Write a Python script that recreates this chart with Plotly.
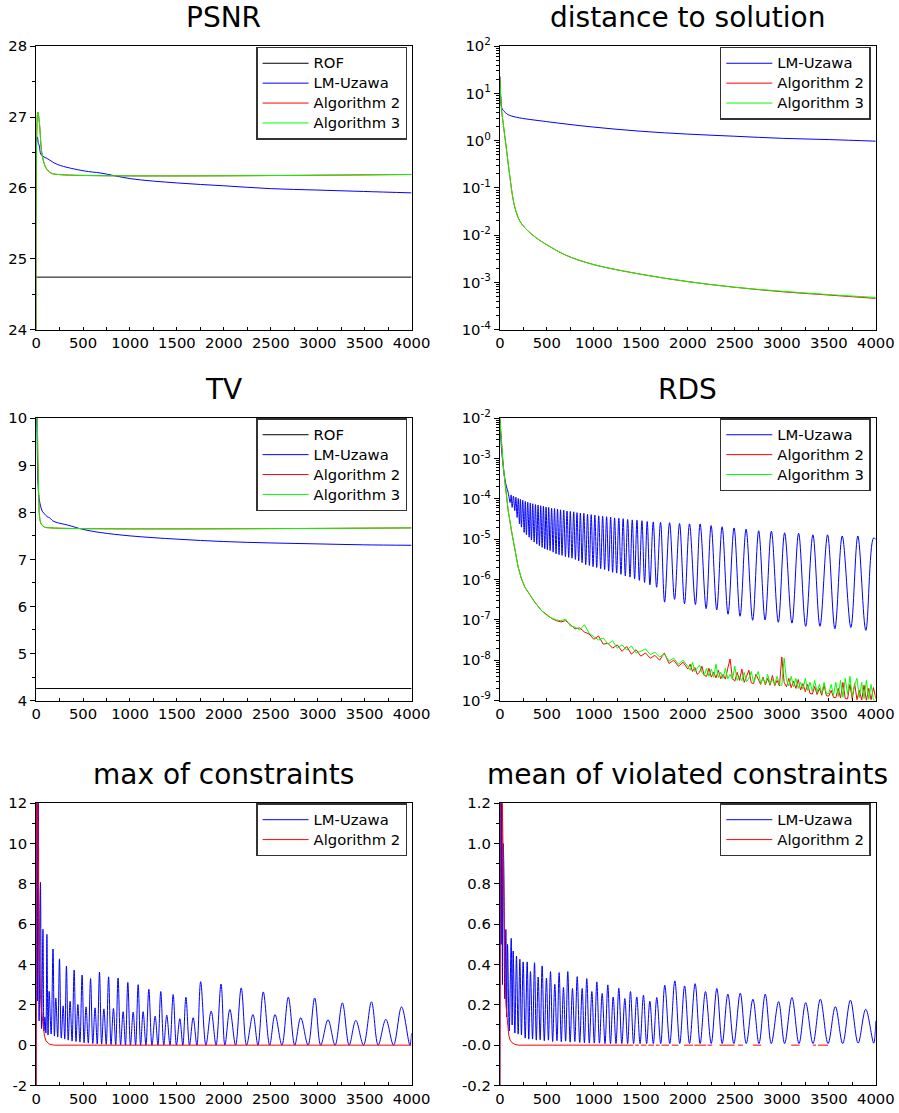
import plotly.graph_objects as go

# ======================= DATA =======================
# --- PSNR ---
psnr_rof_it = [0, 4000]
psnr_rof = [24.74, 24.74]
psnr_lm_it = [0, 12, 25, 35, 53, 124, 230, 513, 690, 1009, 1504, 2000, 2496, 2991, 3487, 4000]
psnr_lm = [23.0, 26.72, 26.63, 26.59, 26.47, 26.41, 26.33, 26.24, 26.21, 26.13, 26.07, 26.03, 25.99, 25.97, 25.95, 25.93]
psnr_alg_it = [0, 18, 35, 53, 71, 106, 159, 230, 4000]
psnr_alg2 = [23.0, 27.07, 26.92, 26.59, 26.42, 26.28, 26.21, 26.19, 26.19]
psnr_alg3 = [23.0, 27.07, 26.92, 26.59, 26.42, 26.28, 26.21, 26.19, 26.19]

# --- distance to solution (log10 values) ---
dist_lm_it = [0, 10, 20, 35, 88, 177, 496, 991, 1504, 2000, 2496, 3009, 3504, 4000]
dist_lm_exp = [1.36, 0.9, 0.7, 0.645, 0.553, 0.497, 0.405, 0.29, 0.20, 0.14, 0.095, 0.05, 0.024, -0.01]
dist_alg_it = [0, 18, 35, 71, 106, 142, 177, 212, 283, 389, 496, 708, 991, 1504, 1982, 2478, 3009, 3504, 4000]
dist_alg2_exp = [1.36, 0.66, 0.38, -0.19, -0.75, -1.25, -1.53, -1.70, -1.88, -2.06, -2.20, -2.43, -2.62, -2.83, -2.98, -3.10, -3.20, -3.27, -3.34]
dist_alg3_exp = [1.36, 0.66, 0.38, -0.19, -0.75, -1.25, -1.53, -1.70, -1.88, -2.06, -2.20, -2.43, -2.62, -2.83, -2.98, -3.10, -3.19, -3.26, -3.32]

# --- TV ---
tv_rof_it = [0, 4000]
tv_rof = [4.255, 4.255]
tv_lm_it = [0, 10, 28, 46, 60, 71, 88, 106, 125, 142, 177, 230, 336, 496, 690, 1002, 1504, 2000, 2496, 2991, 3487, 4000]
tv_lm = [12.0, 9.6, 8.36, 8.15, 8.05, 8.01, 7.97, 7.93, 7.90, 7.89, 7.82, 7.78, 7.73, 7.64, 7.57, 7.50, 7.43, 7.38, 7.35, 7.33, 7.31, 7.30]
tv_alg_it = [0, 10, 20, 30, 35, 53, 88, 159, 4000]
tv_alg2 = [12.0, 10.5, 9.0, 8.2, 7.94, 7.76, 7.69, 7.67, 7.67]
tv_alg3 = [12.0, 10.5, 9.0, 8.2, 7.94, 7.76, 7.69, 7.67, 7.67]

# --- RDS (log10 values) ---
rds_lm_start_it = [0, 18, 35, 53, 71, 88]
rds_lm_start_exp = [-2.0, -2.76, -3.17, -3.5, -3.7, -3.83]
rds_lm_peak_it = [120, 145, 171, 196, 219, 244, 271, 297, 324, 350, 379, 407, 435, 464, 492, 520, 551, 582, 614, 646,
                  680, 715, 750, 786, 821, 857, 894, 933, 972, 1011, 1052, 1094, 1136, 1179, 1221, 1266, 1312, 1360, 1409, 1459,
                  1512, 1568, 1632, 1710, 1806, 1912, 2018, 2131, 2248, 2365, 2492, 2620, 2754, 2889, 3030, 3179,
                  3331, 3487, 3643, 3809, 3976, 4000]
rds_lm_peak_exp = [-3.90, -3.93, -3.96, -3.99, -4.01, -4.03, -4.06, -4.08, -4.10, -4.12, -4.14, -4.15, -4.17, -4.18, -4.20, -4.21, -4.23, -4.24, -4.25, -4.27,
                   -4.28, -4.30, -4.31, -4.32, -4.34, -4.35, -4.36, -4.38, -4.39, -4.40, -4.42, -4.43, -4.44, -4.45, -4.47, -4.48, -4.49, -4.51, -4.52, -4.53,
                   -4.54, -4.56, -4.57, -4.58, -4.59, -4.61, -4.62, -4.62, -4.66, -4.69, -4.72, -4.75, -4.79, -4.80, -4.84, -4.85,
                   -4.89, -4.89, -4.92, -4.92, -4.97, -5.0]
rds_lm_trough_it = [110, 131, 159, 184, 209, 230, 259, 283, 312, 336, 365, 393, 421, 450, 478, 506, 535, 567, 598, 630,
                    662, 698, 733, 768, 804, 839, 875, 914, 953, 992, 1031, 1073, 1115, 1158, 1200, 1243, 1289, 1335, 1385, 1434,
                    1484, 1540, 1597, 1668, 1753, 1859, 1965, 2081, 2195, 2308, 2428, 2556, 2690, 2822, 2963, 3108,
                    3254, 3406, 3565, 3735, 3894]
rds_lm_trough_exp = [-4.09, -4.21, -4.29, -4.46, -4.62, -4.70, -4.83, -4.89, -4.95, -5.02, -5.07, -5.12, -5.16, -5.20, -5.24, -5.26, -5.28, -5.32, -5.36, -5.38,
                     -5.40, -5.43, -5.45, -5.47, -5.50, -5.54, -5.58, -5.63, -5.65, -5.68, -5.70, -5.73, -5.75, -5.79, -5.82, -5.84, -5.87, -5.91, -5.94, -5.98,
                     -6.02, -6.07, -6.13, -6.19, -6.56, -6.49, -6.60, -6.62, -6.72, -6.75, -6.86, -6.91, -7.01, -7.00, -7.06, -7.08,
                     -7.16, -7.16, -7.22, -7.19, -7.26]

rds_alg_it = [0, 18, 35, 53, 71, 89, 124, 159, 195, 230, 266, 301, 372, 443, 513,
              550, 600, 650, 700, 750, 800, 850, 900, 950, 1000, 1050, 1100, 1150, 1200, 1250, 1300, 1350, 1400, 1450, 1500,
              1550, 1600, 1650, 1700, 1750, 1800, 1850, 1900, 1950,
              2000, 2025, 2050, 2075, 2100, 2125, 2150, 2175, 2200, 2225,
              2250, 2275, 2300, 2325, 2350, 2375, 2400, 2425, 2450, 2475,
              2500, 2525, 2550, 2575, 2600, 2625, 2650, 2675, 2700, 2725,
              2750, 2775, 2800, 2825, 2850, 2875, 2900, 2925, 2950, 2975,
              3000, 3025, 3050, 3075, 3100, 3125, 3150, 3175, 3200, 3225,
              3250, 3275, 3300, 3325, 3350, 3375, 3400, 3425, 3450, 3475,
              3500, 3525, 3550, 3575, 3600, 3625, 3650, 3675, 3700, 3725,
              3750, 3775, 3800, 3825, 3850, 3875, 3900, 3925, 3950, 3975,
              4000]
rds_alg2_exp = [-2.0, -2.64, -3.14, -3.55, -3.96, -4.29, -4.79, -5.28, -5.69, -5.98, -6.19, -6.31, -6.56, -6.77, -6.91,
                -6.96, -7.02, -7.05, -7.02, -7.12, -7.22, -7.20, -7.30, -7.35, -7.48, -7.40, -7.60, -7.58, -7.70, -7.62, -7.78, -7.66, -7.85, -7.74, -7.90,
                -7.82, -7.95, -7.88, -8.00, -7.82, -8.08, -8.00, -8.15, -8.05,
                -8.22, -8.10, -8.28, -8.18, -8.35, -8.30, -8.15, -8.38, -8.40, -8.20,
                -8.42, -8.30, -8.44, -8.25, -8.46, -8.35, -8.47, -8.20, -7.97, -8.45,
                -8.52, -8.30, -8.50, -8.22, -8.55, -8.40, -8.25, -8.56, -8.58, -8.35,
                -8.50, -8.60, -8.42, -8.61, -8.45, -8.62, -8.38, -8.63, -8.50, -8.64,
                -7.92, -8.55, -8.66, -8.45, -8.68, -8.52, -8.70, -8.48, -8.74, -8.58,
                -8.78, -8.60, -8.82, -8.84, -8.65, -8.85, -8.70, -8.87, -8.62, -8.88,
                -8.89, -8.75, -8.92, -8.93, -8.70, -8.94, -8.55, -8.95, -8.96, -8.60,
                -8.97, -8.58, -8.98, -8.75, -8.99, -8.62, -9.0, -8.70, -8.98, -8.68,
                -8.95]
rds_alg3_exp = [-2.0, -2.64, -3.14, -3.55, -3.96, -4.29, -4.79, -5.28, -5.69, -5.98, -6.19, -6.31, -6.56, -6.77, -6.91,
                -6.95, -7.00, -7.02, -6.98, -7.15, -7.18, -7.25, -7.12, -7.33, -7.42, -7.50, -7.45, -7.60, -7.52, -7.70, -7.62, -7.75, -7.65, -7.82, -7.78,
                -7.72, -7.86, -7.80, -7.92, -7.85, -8.02, -7.95, -8.10, -8.00,
                -8.15, -8.25, -8.05, -8.28, -8.20, -8.12, -8.30, -8.38, -8.20, -8.40,
                -8.22, -8.42, -8.10, -8.43, -8.30, -8.45, -8.20, -8.46, -8.35, -8.48,
                -8.15, -8.50, -8.40, -8.51, -8.30, -8.53, -8.45, -8.28, -8.55, -8.40,
                -8.28, -8.57, -8.45, -8.58, -8.35, -8.59, -8.48, -8.60, -8.40, -8.61,
                -8.62, -7.95, -8.50, -8.64, -8.40, -8.66, -8.45, -8.70, -8.55, -8.72,
                -8.45, -8.75, -8.55, -8.77, -8.50, -8.80, -8.60, -8.82, -8.55, -8.84,
                -8.82, -8.60, -8.87, -8.55, -8.90, -8.50, -8.92, -8.45, -8.85, -8.40,
                -8.90, -8.60, -8.45, -8.93, -8.55, -8.95, -8.50, -8.97, -8.60, -8.99,
                -9.0]

# --- max of constraints ---
max_lm_start_it = [0, 6, 14, 22, 32]
max_lm_start = [-3.0, 20.0, 2.2, 20.0, 1.2]
max_lm_peak_it = [46, 73, 94, 115, 139, 180, 210, 249, 288, 323, 362, 405, 445, 490, 532, 580, 628, 675, 722, 772,
                  824, 873, 927, 977, 1034, 1087, 1140, 1201, 1268, 1328, 1392, 1460, 1531, 1596, 1673, 1753, 1865, 1970,
                  2064, 2185, 2310, 2420, 2545, 2687, 2819, 2968, 3110, 3263, 3406, 3573, 3726, 3893, 4000]
max_lm_peak = [8.08, 5.75, 1.4, 5.5, 2.67, 4.77, 2.34, 4.28, 1.95, 3.92, 2.18, 3.72, 2.02, 3.48, 1.90, 3.30, 1.85, 3.62, 1.80, 3.39,
               1.82, 3.33, 1.66, 3.11, 1.64, 3.0, 1.66, 2.77, 1.44, 2.66, 1.49, 2.51, 1.31, 2.38, 1.36, 3.15, 1.69, 3.03,
               1.77, 2.84, 1.52, 2.64, 1.52, 2.38, 1.36, 2.34, 1.26, 2.10, 1.23, 2.15, 1.28, 1.90, 0.6]
max_lm_trough_it = [58, 84, 104, 127, 160, 195, 230, 268, 305, 342, 383, 425, 467, 511, 556, 604, 651, 698, 747, 798,
                    848, 900, 952, 1005, 1060, 1113, 1170, 1234, 1298, 1360, 1426, 1495, 1563, 1634, 1713, 1809, 1917, 2011,
                    2125, 2242, 2363, 2488, 2619, 2755, 2897, 3032, 3185, 3335, 3488, 3644, 3808, 3982]
max_lm_trough = [0.82, 0.7, 0.6, 0.5, 0.55, 0.45, 0.4, 0.35, 0.3, 0.25, 0.2, 0.18, 0.15, 0.12, 0.1, 0.08, 0.06, 0.05, 0.04, 0.03,
                 0.02, 0.02, 0.0, 0.0, 0.0, 0.0, 0.0, 0.0, 0.0, 0.0, 0.0, 0.0, 0.0, 0.0, 0.0, 0.0, 0.0, 0.0,
                 0.0, 0.0, 0.0, 0.0, 0.0, 0.0, 0.0, 0.0, 0.0, 0.0, 0.0, 0.0, 0.0, 0.0]
max_alg2_it = [0, 8, 25, 35, 46, 60, 71, 89, 107, 142, 195, 4000]
max_alg2 = [-3.0, 20.0, 8.0, 4.5, 2.5, 1.6, 1.0, 0.45, 0.2, 0.05, 0.0, 0.0]

# --- mean of violated constraints ---
mean_lm_start_it = [0, 7, 14, 21, 28, 36]
mean_lm_start = [-0.3, 1.6, 0.5, 1.6, 0.3, 1.0]
mean_lm_peak_it = [43, 64, 82, 121, 142, 177, 213, 248, 291, 326, 369, 408, 450, 496, 539, 585, 631, 677, 723, 773,
                   823, 876, 925, 979, 1032, 1089, 1149, 1206, 1266, 1330, 1390, 1457, 1528, 1596, 1670, 1755, 1862, 1966,
                   2078, 2188, 2309, 2426, 2558, 2693, 2824, 2966, 3108, 3254, 3410, 3570, 3730, 3893, 4000]
mean_lm_peak = [0.87, 0.574, 0.50, 0.53, 0.467, 0.442, 0.426, 0.413, 0.413, 0.365, 0.409, 0.338, 0.393, 0.332, 0.365, 0.302, 0.36, 0.286, 0.365, 0.281,
                0.34, 0.281, 0.33, 0.266, 0.314, 0.256, 0.299, 0.239, 0.282, 0.231, 0.266, 0.239, 0.248, 0.218, 0.236, 0.297, 0.319, 0.294,
                0.305, 0.266, 0.281, 0.253, 0.258, 0.228, 0.253, 0.216, 0.236, 0.211, 0.228, 0.191, 0.223, 0.178, 0.12]
mean_lm_trough_it = [53, 73, 100, 131, 160, 195, 230, 270, 308, 348, 388, 429, 473, 517, 562, 608, 654, 700, 748, 798,
                     850, 900, 952, 1005, 1060, 1119, 1177, 1236, 1298, 1360, 1423, 1492, 1562, 1633, 1712, 1808, 1914, 2018,
                     2131, 2249, 2366, 2490, 2622, 2757, 2888, 3030, 3183, 3332, 3492, 3648, 3812, 3978]
mean_lm_trough = [0.23, 0.14, 0.07, 0.10, 0.06, 0.055, 0.05, 0.035, 0.03, 0.03, 0.025, 0.027, 0.022, 0.025, 0.018, 0.022, 0.017, 0.02, 0.015, 0.018,
                  0.013, 0.012, 0.01, 0.01, 0.01, 0.008, 0.008, 0.008, 0.008, 0.008, 0.008, 0.008, 0.008, 0.008, 0.008, 0.008, 0.008, 0.008,
                  0.008, 0.008, 0.008, 0.008, 0.008, 0.008, 0.008, 0.008, 0.008, 0.008, 0.008, 0.008, 0.01, 0.01]
mean_alg2_it = [0, 8, 25, 40, 53, 65, 80, 95, 110, 130, 160, 200, 1420, None, 1440, 1480, None, 1500, 1560, None,
                1580, 1640, None, 1660, 1700, None, 1720, 1800, None, 1830, 1900, None, 1960, 2055, None, 2070, 2195, None,
                2210, 2260, None, 2337, 2497, None, 2533, 2586, None, 2693, 2781, None, 3100, 3190, None, 3330, 3365, None, 3385, 3492]
mean_alg2 = [-0.3, 1.6, 1.25, 0.75, 0.4, 0.2, 0.1, 0.05, 0.025, 0.012, 0.004, 0.0, 0.0, None, 0.0, 0.0, None, 0.0, 0.0, None,
             0.0, 0.0, None, 0.0, 0.0, None, 0.0, 0.0, None, 0.0, 0.0, None, 0.0, 0.0, None, 0.0, 0.0, None,
             0.0, 0.0, None, 0.0, 0.0, None, 0.0, 0.0, None, 0.0, 0.0, None, 0.0, 0.0, None, 0.0, 0.0, None, 0.0, 0.0]

x_ticks = [0, 500, 1000, 1500, 2000, 2500, 3000, 3500, 4000]

# ======================= HELPERS =======================
def merge(*pairs):
    pts = []
    for xs, ys in pairs:
        pts += list(zip(xs, ys))
    pts.sort(key=lambda p: p[0])
    return [p[0] for p in pts], [p[1] for p in pts]

def pw(exps):
    return [10 ** e for e in exps]

FONT = "DejaVu Sans"
BLUE, RED, GREEN, BLACK = "#0000ff", "#ff0000", "#00ff00", "#000000"
W, H = 899, 1113
LEG_FS = 14.8

# the photographed page is slightly rescaled/offset; map wanted picture pixels to layout pixels
KX, CX = 0.976, 3.8
KY, CY = 0.9856, 7.6
def fx(t):
    return (t - CX) / KX
def fy(t):
    return (t - CY) / KY

fig = go.Figure()

def label(text, k):
    # same visible text; style string varies so every legend entry name is unique
    return f'<span style="font-size:{LEG_FS}px;' + " " * k + f'">{text}</span>'

def add(panel, x, y, name, color, shape="linear"):
    ax = "" if panel == 1 else str(panel)
    leg = "legend" if panel == 1 else f"legend{panel}"
    fig.add_trace(go.Scatter(
        x=x, y=y, mode="lines", name=label(name, panel - 1), xaxis="x" + ax, yaxis="y" + ax,
        line=dict(color=color, width=1, shape=shape), legend=leg,
        connectgaps=False, hoverinfo="skip"))

# PSNR
add(1, psnr_rof_it, psnr_rof, "ROF", BLACK)
add(1, psnr_lm_it, psnr_lm, "LM-Uzawa", BLUE, "spline")
add(1, psnr_alg_it, psnr_alg2, "Algorithm 2", RED, "spline")
add(1, psnr_alg_it, psnr_alg3, "Algorithm 3", GREEN, "spline")
# distance
add(2, dist_lm_it, pw(dist_lm_exp), "LM-Uzawa", BLUE, "spline")
add(2, dist_alg_it, pw(dist_alg2_exp), "Algorithm 2", RED, "spline")
add(2, dist_alg_it, pw(dist_alg3_exp), "Algorithm 3", GREEN, "spline")
# TV
add(3, tv_rof_it, tv_rof, "ROF", BLACK)
add(3, tv_lm_it, tv_lm, "LM-Uzawa", BLUE, "spline")
add(3, tv_alg_it, tv_alg2, "Algorithm 2", RED, "spline")
add(3, tv_alg_it, tv_alg3, "Algorithm 3", GREEN, "spline")
# RDS
rx, ry = merge((rds_lm_start_it, rds_lm_start_exp), (rds_lm_peak_it, rds_lm_peak_exp), (rds_lm_trough_it, rds_lm_trough_exp))
add(4, rx, pw(ry), "LM-Uzawa", BLUE, "spline")
add(4, rds_alg_it, pw(rds_alg2_exp), "Algorithm 2", RED)
add(4, rds_alg_it, pw(rds_alg3_exp), "Algorithm 3", GREEN)
# max of constraints
mx, my = merge((max_lm_start_it, max_lm_start), (max_lm_peak_it, max_lm_peak), (max_lm_trough_it, max_lm_trough))
add(5, mx, my, "LM-Uzawa", BLUE, "spline")
add(5, max_alg2_it, max_alg2, "Algorithm 2", RED)
# mean of violated constraints
vx, vy = merge((mean_lm_start_it, mean_lm_start), (mean_lm_peak_it, mean_lm_peak), (mean_lm_trough_it, mean_lm_trough))
add(6, vx, vy, "LM-Uzawa", BLUE, "spline")
add(6, mean_alg2_it, mean_alg2, "Algorithm 2", RED)

# ======================= LAYOUT =======================
XD = [[fx(35) / W, fx(411.5) / W], [fx(500) / W, fx(877) / W]]
YD = [[1 - fy(327) / H, 1 - fy(43) / H], [1 - fy(699) / H, 1 - fy(416) / H], [1 - fy(1085) / H, 1 - fy(802) / H]]
tickfont = dict(family=FONT, size=14.8, color="black")

def xaxis(col, anchor):
    return dict(domain=XD[col], range=[0, 4000], anchor=anchor, showline=True, linecolor="black", linewidth=1,
                mirror=True, showgrid=False, zeroline=False, tickmode="array", tickvals=x_ticks,
                ticktext=[str(v) for v in x_ticks], ticks="inside", ticklen=3, tickcolor="black",
                tickfont=tickfont, minor=dict(ticks="inside", ticklen=3, tickmode="linear", tick0=0, dtick=250, tickcolor="black"))

def yaxis_lin(row, anchor, rng, vals, texts, minor_dtick):
    return dict(domain=YD[row], range=rng, anchor=anchor, showline=True, linecolor="black", linewidth=1,
                mirror=True, showgrid=False, zeroline=False, tickmode="array", tickvals=vals, ticktext=texts,
                ticks="outside", ticklen=5, tickcolor="black", tickfont=tickfont,
                minor=dict(ticks="outside", ticklen=3, tickmode="linear", tick0=rng[0], dtick=minor_dtick, tickcolor="black"))

def yaxis_log(row, anchor, lo, hi):
    vals = [10 ** e for e in range(lo, hi + 1)]
    texts = [f"10<sup>{e}</sup>" for e in range(lo, hi + 1)]
    minors = [m * 10 ** e for e in range(lo, hi) for m in range(2, 10)]
    return dict(domain=YD[row], type="log", range=[lo, hi], anchor=anchor, showline=True, linecolor="black",
                linewidth=1, mirror=True, showgrid=False, zeroline=False, tickmode="array", tickvals=vals,
                ticktext=texts, ticks="outside", ticklen=5, tickcolor="black", tickfont=tickfont,
                minor=dict(ticks="outside", ticklen=3, tickmode="array", tickvals=minors, tickcolor="black"))

psnr_vals = [24, 25, 26, 27, 28]
tv_vals = [4, 5, 6, 7, 8, 9, 10]
max_vals = [-2, 0, 2, 4, 6, 8, 10, 12]
max_text = ["-2", "0", "2", "4", "6", "8", "10", "12"]
mean_vals = [-0.2, 0.0, 0.2, 0.4, 0.6, 0.8, 1.0, 1.2]
mean_text = ["-0.2", "-0.0", "0.2", "0.4", "0.6", "0.8", "1.0", "1.2"]

def legend(xr, ytop):
    return dict(x=fx(xr) / W, y=1 - fy(ytop) / H, xanchor="right", yanchor="top", bgcolor="white",
                bordercolor="#333333", borderwidth=1.5, font=dict(family=FONT, size=13, color="black"),
                itemwidth=46)

title_font = dict(family=FONT, size=28, color="black")
titles = [("PSNR", 223.25, 16), ("distance to solution", 688.5, 16), ("TV", 223.25, 389),
          ("RDS", 688.5, 389), ("max of constraints", 223.25, 775), ("mean of violated constraints", 688.5, 775)]

fig.update_layout(
    width=W, height=H, margin=dict(l=0, r=0, t=0, b=0), paper_bgcolor="white", plot_bgcolor="white",
    font=dict(family=FONT, color="black"), showlegend=True,
    xaxis=xaxis(0, "y"), yaxis=yaxis_lin(0, "x", [24, 28], psnr_vals, [str(v) for v in psnr_vals], 0.5),
    xaxis2=xaxis(1, "y2"), yaxis2=yaxis_log(0, "x2", -4, 2),
    xaxis3=xaxis(0, "y3"), yaxis3=yaxis_lin(1, "x3", [4, 10], tv_vals, [str(v) for v in tv_vals], 0.5),
    xaxis4=xaxis(1, "y4"), yaxis4=yaxis_log(1, "x4", -9, -2),
    xaxis5=xaxis(0, "y5"), yaxis5=yaxis_lin(2, "x5", [-2, 12], max_vals, max_text, 1),
    xaxis6=xaxis(1, "y6"), yaxis6=yaxis_lin(2, "x6", [-0.2, 1.2], mean_vals, mean_text, 0.1),
    legend=legend(407, 43.5), legend2=legend(872, 43.5), legend3=legend(407, 416),
    legend4=legend(872, 416), legend5=legend(407, 802), legend6=legend(872, 802),
    annotations=[dict(text=t, x=fx(x) / W, y=1 - (fy(y) - 2) / H, xref="paper", yref="paper", xanchor="center",
                      yanchor="middle", showarrow=False, font=title_font) for t, x, y in titles],
)

fig.write_html("out.html", config={"displayModeBar": False},
               post_script="document.body.style.margin='0';document.body.style.padding='0';"
                           "document.documentElement.style.overflow='hidden';")
